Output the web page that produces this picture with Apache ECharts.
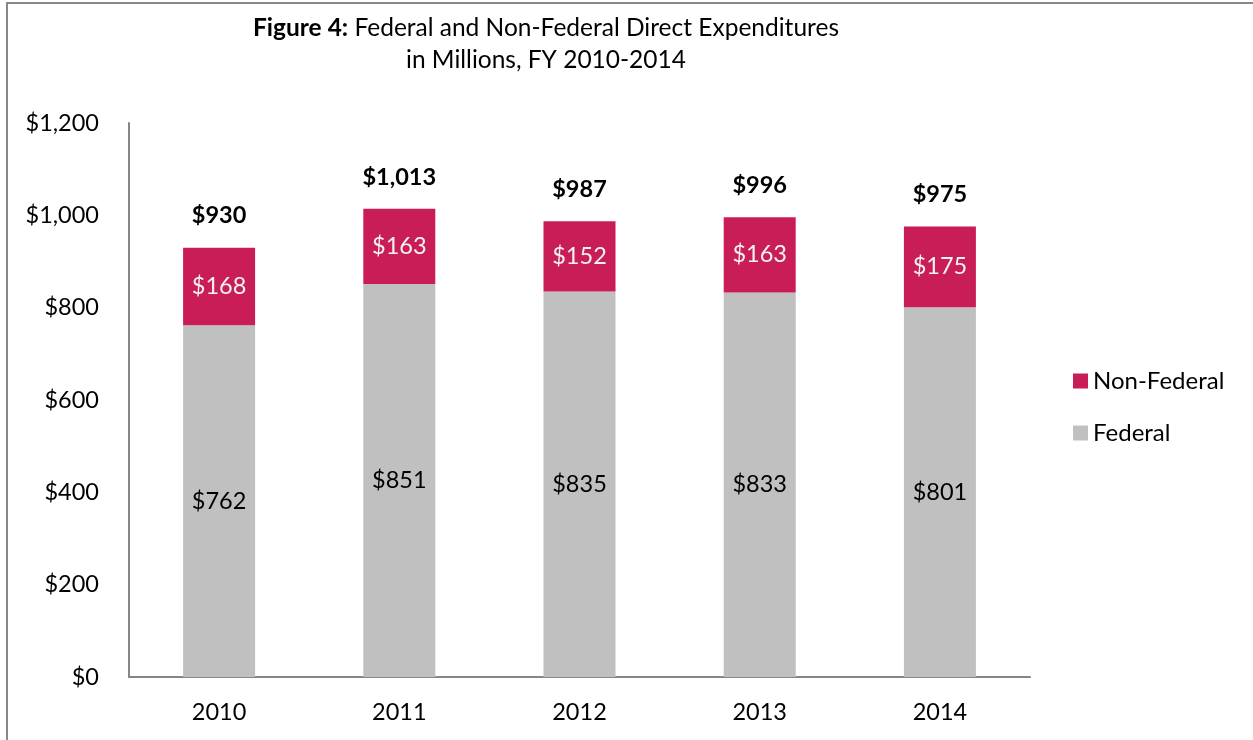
<!DOCTYPE html>
<html>
<head>
<meta charset="utf-8">
<script src="https://cdn.jsdelivr.net/npm/echarts@6/dist/echarts.min.js"></script>
<style>
  html, body { margin: 0; padding: 0; background: #fff; }
  #main { width: 1253px; height: 740px; }
</style>
</head>
<body>
<div id="main"></div>
<script>
const years = ['2010', '2011', '2012', '2013', '2014']
const federal = [762, 851, 835, 833, 801]
const nonFederal = [168, 163, 152, 163, 175]
const totals = [930, 1013, 987, 996, 975]
const yTicks = [0, 200, 400, 600, 800, 1000, 1200]

const font = 'Lato, "Open Sans", sans-serif'
const money = v => '$' + Number(v).toLocaleString('en-US')

let myChart = echarts.init(document.getElementById('main'))

let option = {
    animation: false,
    textStyle: { fontFamily: font },
    graphic: [{
        type: 'rect',
        shape: { x: 7, y: 3, width: 1400, height: 900 },
        style: { fill: 'none', stroke: '#888', lineWidth: 2 }
    }],
    title: {
        text: '{b|Figure 4:} Federal and Non-Federal Direct Expenditures\nin Millions, FY 2010-2014',
        left: 541,
        top: 7,
        textAlign: 'center',
        textStyle: {
            fontFamily: font,
            fontWeight: 'normal',
            fontSize: 24.5,
            lineHeight: 32,
            color: '#000',
            rich: {
                b: { fontFamily: font, fontWeight: 'bold', fontSize: 24.5, color: '#000' }
            }
        }
    },
    legend: {
        orient: 'vertical',
        left: 1068,
        top: 364,
        itemWidth: 15,
        itemHeight: 15,
        itemGap: 28,
        icon: 'rect',
        data: ['Non-Federal', 'Federal'],
        textStyle: { fontFamily: font, fontSize: 24, color: '#000' }
    },
    grid: { left: 129, top: 123, width: 901, height: 554 },
    xAxis: {
        type: 'category',
        data: years,
        axisLine: { lineStyle: { color: '#868686', width: 2 } },
        axisTick: { show: false },
        axisLabel: { fontFamily: font, fontSize: 23.5, color: '#000', margin: 23 }
    },
    yAxis: {
        type: 'value',
        min: yTicks[0],
        max: yTicks[yTicks.length - 1],
        interval: yTicks[1] - yTicks[0],
        axisLine: { show: true, lineStyle: { color: '#868686', width: 2 } },
        axisTick: { show: false },
        splitLine: { show: false },
        axisLabel: { fontFamily: font, fontSize: 23.5, color: '#000', margin: 30, formatter: money }
    },
    series: [{
        name: 'Federal',
        type: 'bar',
        stack: 'total',
        barWidth: 72,
        data: federal,
        itemStyle: { color: '#C0C0C0' },
        label: { show: true, position: 'inside', fontFamily: font, fontSize: 23.5, color: '#000', formatter: p => money(p.value) }
    }, {
        name: 'Non-Federal',
        type: 'bar',
        stack: 'total',
        barWidth: 72,
        data: nonFederal,
        itemStyle: { color: '#C91D57' },
        label: { show: true, position: 'inside', fontFamily: font, fontSize: 23.5, color: '#F2F2F2', formatter: p => money(p.value) }
    }, {
        name: 'Total',
        type: 'bar',
        barWidth: 72,
        barGap: '-100%',
        z: 0,
        data: totals,
        itemStyle: { color: 'transparent' },
        label: { show: true, position: 'top', distance: 20, fontFamily: font, fontSize: 23.5, fontWeight: 'bold', color: '#000', formatter: p => money(p.value) },
        tooltip: { show: false }
    }]
}

myChart.setOption(option)
</script>
</body>
</html>
